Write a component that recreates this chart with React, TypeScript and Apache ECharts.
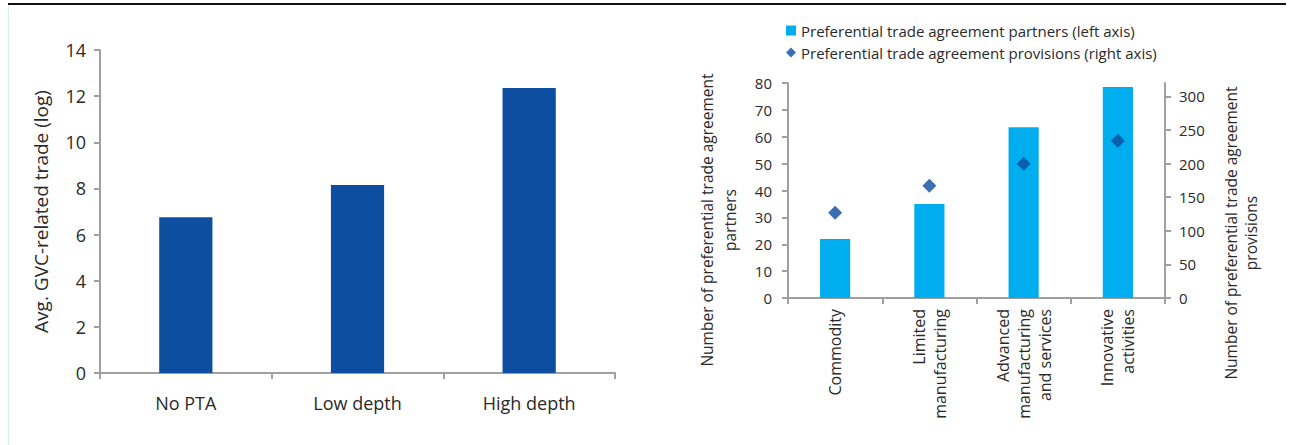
import React, { useEffect, useRef } from "react";
import * as echarts from "echarts";

const gvcCategories = ["No PTA", "Low depth", "High depth"];
const gvcValues = [6.75, 8.15, 12.35];

const ptaCategories = [
  "Commodity",
  "Limited\nmanufacturing",
  "Advanced\nmanufacturing\nand services",
  "Innovative\nactivities",
];
const ptaPartners = [22, 35, 63.5, 78.5];
const ptaProvisions = [127, 167, 200, 234];

const partnersName = "Preferential trade agreement partners (left axis)";
const provisionsName = "Preferential trade agreement provisions (right axis)";

const FONT = "'Open Sans', 'Noto Sans', sans-serif";
const TEXT = "#2a2a2a";
const AXIS = "#a0a0a0";

export default function App() {
  const ref = useRef<HTMLDivElement>(null);
  useEffect(() => {
    if (!ref.current) return;
    const chart = echarts.init(ref.current, undefined, { renderer: "svg" });
    const axisLine = { show: true, lineStyle: { color: AXIS, width: 2 } };
    const axisTick = { show: true, length: 6, lineStyle: { color: AXIS, width: 2 } };
    chart.setOption({
      animation: false,
      textStyle: { fontFamily: FONT, color: TEXT },
      legend: {
        data: [
          { name: partnersName, icon: "rect" },
          { name: provisionsName, icon: "diamond" },
        ],
        orient: "vertical",
        left: 781,
        top: 18,
        itemWidth: 10,
        itemHeight: 10,
        itemGap: 7,
        textStyle: { fontFamily: FONT, fontSize: 15, color: TEXT },
      },
      grid: [
        { left: 100, top: 50, width: 515, height: 323 },
        { left: 788, top: 83, width: 377, height: 215 },
      ],
      xAxis: [
        {
          type: "category",
          gridIndex: 0,
          data: gvcCategories,
          axisLine,
          axisTick: { ...axisTick, alignWithLabel: false },
          axisLabel: { fontFamily: FONT, fontSize: 18, color: TEXT, margin: 21 },
        },
        {
          type: "category",
          gridIndex: 1,
          data: ptaCategories,
          axisLine,
          axisTick: { ...axisTick, alignWithLabel: false },
          axisLabel: {
            fontFamily: FONT,
            fontSize: 16,
            color: TEXT,
            rotate: 90,
            margin: 11,
            lineHeight: 21,
            interval: 0,
          },
        },
      ],
      yAxis: [
        {
          type: "value",
          gridIndex: 0,
          min: 0,
          max: 14,
          interval: 2,
          axisLine,
          axisTick,
          splitLine: { show: false },
          axisLabel: { fontFamily: FONT, fontSize: 18, color: TEXT, margin: 14 },
          name: "Avg. GVC-related trade (log)",
          nameLocation: "middle",
          nameGap: 50,
          nameTextStyle: { fontFamily: FONT, fontSize: 19, color: TEXT },
        },
        {
          type: "value",
          gridIndex: 1,
          min: 0,
          max: 80,
          interval: 10,
          axisLine,
          axisTick,
          splitLine: { show: false },
          axisLabel: { fontFamily: FONT, fontSize: 15, color: TEXT, margin: 16 },
        },
        {
          type: "value",
          gridIndex: 1,
          position: "right",
          min: 0,
          max: 320,
          interval: 50,
          axisLine,
          axisTick: { ...axisTick, customValues: [0, 50, 100, 150, 200, 250, 300] },
          splitLine: { show: false },
          axisLabel: {
            fontFamily: FONT,
            fontSize: 15,
            color: TEXT,
            margin: 14,
            customValues: [0, 50, 100, 150, 200, 250, 300],
          },
        },
      ],
      series: [
        {
          type: "bar",
          xAxisIndex: 0,
          yAxisIndex: 0,
          data: gvcValues,
          barWidth: "31%",
          itemStyle: { color: "#0D4EA0" },
        },
        {
          type: "bar",
          name: partnersName,
          xAxisIndex: 1,
          yAxisIndex: 1,
          data: ptaPartners,
          barWidth: "32%",
          itemStyle: { color: "#00AEEF" },
        },
        {
          type: "scatter",
          name: provisionsName,
          xAxisIndex: 1,
          yAxisIndex: 2,
          data: ptaProvisions,
          symbol: "diamond",
          symbolSize: 14,
          itemStyle: { color: "#0C4A9E" },
          z: 5,
        },
      ],
      graphic: [
        {
          type: "line",
          shape: { x1: 8, y1: 4, x2: 1286, y2: 4 },
          style: { stroke: "#111111", lineWidth: 2 },
          silent: true,
        },
        {
          type: "line",
          shape: { x1: 8.5, y1: 5, x2: 8.5, y2: 445 },
          style: { stroke: "#d4ebf8", lineWidth: 1 },
          silent: true,
        },
        {
          type: "text",
          x: 718,
          y: 220,
          rotation: Math.PI / 2,
          style: {
            text: "Number of preferential trade agreement\npartners",
            fontFamily: FONT,
            fontSize: 15.5,
            lineHeight: 23,
            fill: TEXT,
            align: "center",
            verticalAlign: "middle",
          },
          silent: true,
        },
        {
          type: "text",
          x: 1241,
          y: 233,
          rotation: Math.PI / 2,
          style: {
            text: "Number of preferential trade agreement\nprovisions",
            fontFamily: FONT,
            fontSize: 15.5,
            lineHeight: 20,
            fill: TEXT,
            align: "center",
            verticalAlign: "middle",
          },
          silent: true,
        },
      ],
    });
    return () => chart.dispose();
  }, []);
  return (
    <div
      ref={ref}
      style={{ position: "absolute", left: 0, top: 0, width: 1294, height: 445, background: "#ffffff" }}
    />
  );
}
